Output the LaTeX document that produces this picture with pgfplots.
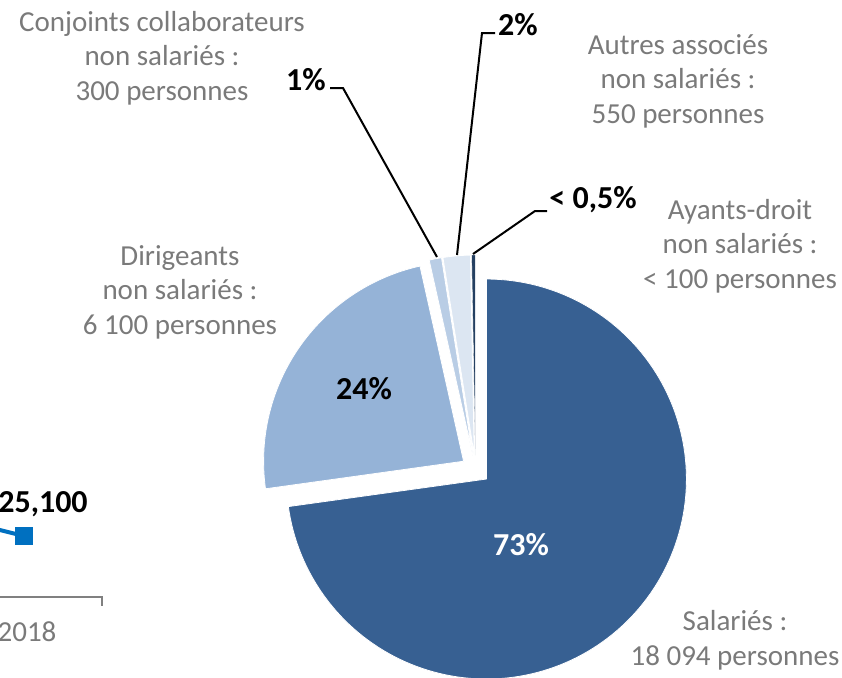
\documentclass[border=0pt]{standalone}
\usepackage{pgfplots}
\pgfplotsset{compat=1.18}
\usepackage{pgfplotstable}
\usepackage{fontspec}
\setmainfont{Carlito}
\definecolor{cSal}{HTML}{376092}
\definecolor{cDir}{HTML}{95B3D7}
\definecolor{cCon}{HTML}{B9CDE5}
\definecolor{cAut}{HTML}{DCE6F2}
\definecolor{cAya}{HTML}{254061}
\definecolor{lblgray}{HTML}{7A7A7A}
\definecolor{axgray}{HTML}{808080}
\definecolor{lineblue}{HTML}{0070C0}

% share of each category (percent), clockwise from 12 o'clock
\pgfplotstableread{
name pct
Salaries 72.8
Dirigeants 23.7
Conjoints 1.0
Autres 2.2
Ayants 0.3
}\piedata

\pgfplotstableread{
x y
-40 157
24 141
}\linedata

\begin{document}
\begin{tikzpicture}
\useasboundingbox (0,0) rectangle (421pt,338.5pt);
\def\cx{475.5}\def\cy{207.5}\def\rr{200}\def\ex{14.5}
\pgfplotstablegetelem{0}{pct}\of\piedata \edef\pA{\pgfplotsretval}
\pgfplotstablegetelem{1}{pct}\of\piedata \edef\pB{\pgfplotsretval}
\pgfplotstablegetelem{2}{pct}\of\piedata \edef\pC{\pgfplotsretval}
\pgfplotstablegetelem{3}{pct}\of\piedata \edef\pD{\pgfplotsretval}
\pgfplotstablegetelem{4}{pct}\of\piedata \edef\pE{\pgfplotsretval}
\pgfmathsetmacro\sA{90}\pgfmathsetmacro\eA{\sA-3.6*\pA}
\pgfmathsetmacro\sB{\eA}\pgfmathsetmacro\eB{\sB-3.6*\pB}
\pgfmathsetmacro\sC{\eB}\pgfmathsetmacro\eC{\sC-3.6*\pC}
\pgfmathsetmacro\sD{\eC}\pgfmathsetmacro\eD{\sD-3.6*\pD}
\pgfmathsetmacro\sE{\eD}\pgfmathsetmacro\eE{\sE-3.6*\pE}
\foreach \k in {A,B,C,D,E}{%
  \pgfmathsetmacro\tmpx{\cx+\ex*cos((\csname s\k\endcsname+\csname e\k\endcsname)/2)}%
  \pgfmathsetmacro\tmpy{\cy+\ex*sin((\csname s\k\endcsname+\csname e\k\endcsname)/2)}%
  \global\expandafter\let\csname ax\k\endcsname\tmpx
  \global\expandafter\let\csname ay\k\endcsname\tmpy
}
\begin{axis}[hide axis, scale only axis, width=421pt, height=338.5pt,
  xmin=0, xmax=842, ymin=0, ymax=677, clip=true,
  every node/.style={inner sep=0pt}]
% pie slices
\addplot[fill=cSal, draw=white, line width=0.4pt, domain=\eA:\sA, samples=150]
  ({\axA+\rr*cos(x)},{\ayA+\rr*sin(x)}) -- (axis cs:\axA,\ayA) -- cycle;
\addplot[fill=cDir, draw=white, line width=0.4pt, domain=\eB:\sB, samples=60]
  ({\axB+\rr*cos(x)},{\ayB+\rr*sin(x)}) -- (axis cs:\axB,\ayB) -- cycle;
\addplot[fill=cCon, draw=white, line width=0.4pt, domain=\eC:\sC, samples=10]
  ({\axC+\rr*cos(x)},{\ayC+\rr*sin(x)}) -- (axis cs:\axC,\ayC) -- cycle;
\addplot[fill=cAut, draw=white, line width=0.4pt, domain=\eD:\sD, samples=10]
  ({\axD+\rr*cos(x)},{\ayD+\rr*sin(x)}) -- (axis cs:\axD,\ayD) -- cycle;
\addplot[fill=cAya, draw=white, line width=0.2pt, domain=\eE:\sE, samples=5]
  ({\axE+\rr*cos(x)},{\ayE+\rr*sin(x)}) -- (axis cs:\axE,\ayE) -- cycle;
% leader lines
\addplot[black, line width=1pt] coordinates {(330,589) (343,589) (437,420)};
\addplot[black, line width=1pt] coordinates {(495,644) (482,644) (457,422)};
\addplot[black, line width=1pt] coordinates {(547,466) (535,466) (473,423)};
% fragment of the neighbouring line chart
\addplot[lineblue, line width=2pt] table[x=x,y=y] {\linedata};
\addplot[only marks, mark=square*, mark size=4.25pt, color=lineblue] coordinates {(24,141)};
\addplot[axgray, line width=0.75pt] coordinates {(0,80) (102,80) (102,71)};
% labels
\begin{scope}[every node/.append style={align=center, text=lblgray, font=\fontsize{14.5}{17.3}\selectfont}]
\node at (axis cs:162,619) {Conjoints collaborateurs\\non salariés :\\300 personnes};
\node at (axis cs:678,596) {Autres associés\\non salariés :\\550 personnes};
\node at (axis cs:740,431) {Ayants-droit\\non salariés :\\< 100 personnes};
\node at (axis cs:180,385) {Dirigeants\\non salariés :\\6 100 personnes};
\node at (axis cs:735,37) {Salariés :\\18 094 personnes};
\node at (axis cs:27,45) {2018};
\end{scope}
\begin{scope}[every node/.append style={font=\fontsize{16}{19}\selectfont\bfseries}]
\node at (axis cs:306,597) {1\%};
\node at (axis cs:518,652) {2\%};
\node at (axis cs:593,477) {< 0,5\%};
\node at (axis cs:364,288) {24\%};
\node[text=white] at (axis cs:521,132) {73\%};
\node at (axis cs:43,173) {25,100};
\end{scope}
\end{axis}
\end{tikzpicture}
\end{document}
